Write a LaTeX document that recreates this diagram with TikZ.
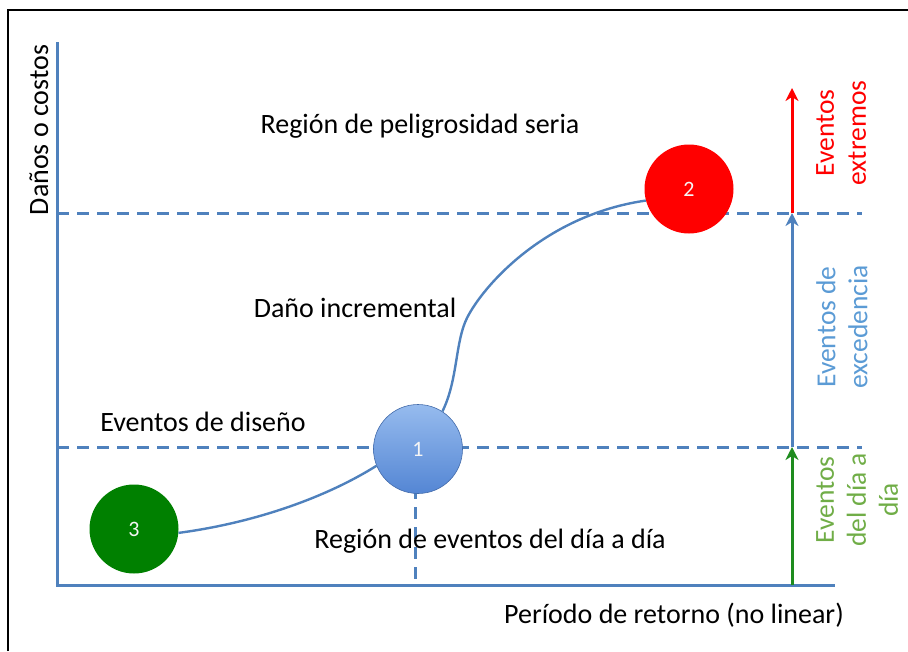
\documentclass[tikz,border=0pt]{standalone}
\usepackage{fontspec}
\setmainfont{Carlito}
\usetikzlibrary{arrows.meta}
\definecolor{axisblue}{HTML}{4F81BD}
\definecolor{lblblue}{HTML}{5B9BD5}
\definecolor{lblgreen}{HTML}{70AD47}
\definecolor{arrgreen}{HTML}{1E8C1E}
\definecolor{dkgreen}{HTML}{008000}
\definecolor{ballred}{HTML}{FF0000}
\definecolor{balltop}{RGB}{150,187,238}
\definecolor{ballbot}{RGB}{84,134,212}
\begin{document}
\begin{tikzpicture}[x=1pt,y=-1pt,
  lbl/.style={font=\fontsize{28}{32}\selectfont, inner sep=0pt, anchor=base},
  side/.style={font=\fontsize{27.5}{32}\selectfont, inner sep=0pt, rotate=90, align=center, anchor=north},
  axisline/.style={axisblue, line width=3pt},
  dashline/.style={axisblue, line width=3pt, dash pattern=on 12pt off 8pt},
  ball/.style={circle, minimum size=89pt, inner sep=0pt, text=white!92!gray, font=\fontsize{22}{24}\selectfont},
  curveline/.style={axisblue, line width=2.4pt},
  vec/.style={line width=3pt, -{Stealth[length=13pt,width=13pt,inset=4pt]}}]

\useasboundingbox (0,0) rectangle (908,651);
% frame
\draw[line width=2pt] (8,651) -- (8,10) -- (908,10);

% coordinates
\coordinate (O) at (57,585);
\coordinate (ytop) at (57,42);
\coordinate (xend) at (835,585);
\coordinate (d1l) at (57,447);
\coordinate (d1r) at (862,447);
\coordinate (d2l) at (57,213);
\coordinate (d2r) at (862,213);
\coordinate (v1) at (415,447);
\coordinate (v0) at (415,585);
\coordinate (a0) at (792,585);
\coordinate (a1) at (792,447);
\coordinate (a2) at (792,213);
\coordinate (a3) at (792,88);
\coordinate (bend) at (467,318);

% dashed lines
\draw[dashline] (d1l) -- (d1r);
\draw[dashline] (d2l) -- (d2r);
\draw[dashline] (v1) -- (v0);

% axes
\draw[axisline] (ytop) -- (O) -- (xend);

% arrows
\draw[vec, arrgreen] (a0) -- (a1);
\draw[vec, axisblue] (a1) -- (a2);
\draw[vec, ballred] (a2) -- (a3);

% circles
\node[ball, top color=balltop, bottom color=ballbot, draw=ballbot!80!black, line width=0.6pt] (c1) at (418,449) {1};
\node[ball, fill=ballred] (c2) at (689,189) {2};
\node[ball, fill=dkgreen] (c3) at (134,529) {3};

% curve
\draw[curveline] (c3.355) .. controls (260,522) and (330,495) .. (c1.202);
\draw[curveline] (c1.57) .. controls (458,380) and (455,342) .. (bend)
  .. controls (483,286) and (545,215) .. (c2.195);

% labels
\node[lbl] (peligro) at (420,133) {Región de peligrosidad seria};
\node[lbl] (incr) at (355,317) {Daño incremental};
\node[lbl] (diseno) at (203,431) {Eventos de diseño};
\node[lbl] (diaadia) at (490,548) {Región de eventos del día a día};
\node[lbl] (periodo) at (674,623) {Período de retorno (no linear)};
\node[lbl, rotate=90] (ylabel) at (48,130) {Daños o costos};

\node[side, text=ballred] (extremos) at (816,133) {Eventos\\extremos};
\node[side, text=lblblue] (excedencia) at (816,327) {Eventos de\\excedencia};
\node[side, text=lblgreen] (diario) at (816,500) {Eventos\\del día a\\día};
\end{tikzpicture}
\end{document}
